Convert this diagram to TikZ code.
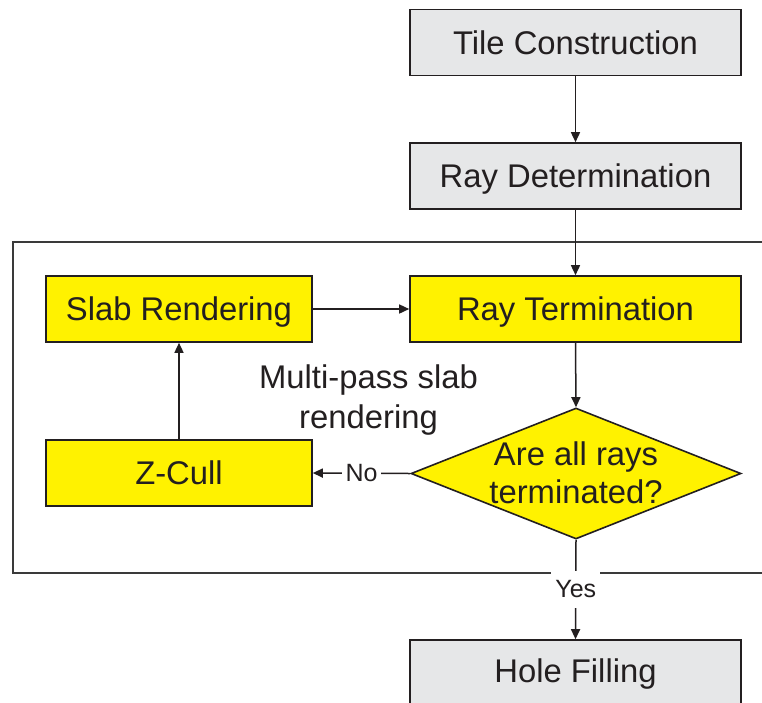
\documentclass[tikz,border=0pt]{standalone}
\usepackage{fontspec}
\setmainfont{Liberation Sans}
\usetikzlibrary{shapes.geometric,arrows.meta}
\definecolor{stepgray}{HTML}{E6E7E8}
\definecolor{stepyellow}{HTML}{FFF200}
\definecolor{ink}{HTML}{231F20}
\definecolor{framegray}{HTML}{3A3A3A}

\begin{document}
\begin{tikzpicture}[x=1pt,y=-1pt,
  box/.style={draw=ink, line width=1.6pt, rectangle, minimum height=66pt,
    inner sep=0pt, text height=23.5pt, text depth=0pt, text=ink,
    font=\fontsize{32.8}{37}\selectfont},
  graybox/.style={box, fill=stepgray, minimum width=331pt},
  yellowbox/.style={box, fill=stepyellow},
  flow/.style={draw=ink, line width=1.5pt, -{Triangle[length=10pt,width=9pt]}},
  tag/.style={fill=white, inner sep=0pt, text=ink,
    font=\fontsize{25}{28}\selectfont}]

% page area
\useasboundingbox (0,0) rectangle (762,702);
\fill[white] (0,0) rectangle (762,702);

% frame round the multi-pass loop
\draw[framegray, line width=1.5pt] (13,242) rectangle (790,573);

% process steps
\node[graybox] (tile) at (575.5,42.5) {Tile Construction};
\node[graybox] (raydet) at (575.5,176) {Ray Determination};
\node[yellowbox, minimum width=331pt] (rayterm) at (575.5,309) {Ray Termination};
\node[yellowbox, minimum width=266pt] (slab) at (179,309) {Slab Rendering};
\node[yellowbox, minimum width=266pt] (zcull) at (179,473) {Z-Cull};
\node[graybox, minimum height=70pt, text depth=9pt] (hole) at (575.5,675) {Hole Filling};

% decision
\node[diamond, draw=ink, line width=1.6pt, fill=stepyellow, inner sep=0pt,
  minimum width=330pt, minimum height=131pt] (ask) at (576,473.5) {};
\node[text=ink, align=center, inner sep=0pt,
  font=\fontsize{32.8}{38}\selectfont] (asktext) at (576,472.5)
  {Are all rays\\terminated?};

% loop caption
\node[text=ink, align=center, inner sep=0pt,
  font=\fontsize{32.8}{40.5}\selectfont] (caption) at (368.5,400)
  {Multi-pass slab\\rendering};

% connectors
\draw[flow] (tile) -- (raydet);
\draw[flow] (raydet) -- (rayterm);
\draw[flow] (slab) -- (rayterm);
\draw[flow] (rayterm.south) -- (ask.north);
\draw[flow] (zcull) -- (slab);
\draw[flow] (ask.west) -- node[tag, minimum width=39pt] {No} (zcull.east);
\draw[flow] (ask.south) -- node[tag, minimum width=49pt, minimum height=37pt] {Yes} (hole.north);
\end{tikzpicture}
\end{document}
